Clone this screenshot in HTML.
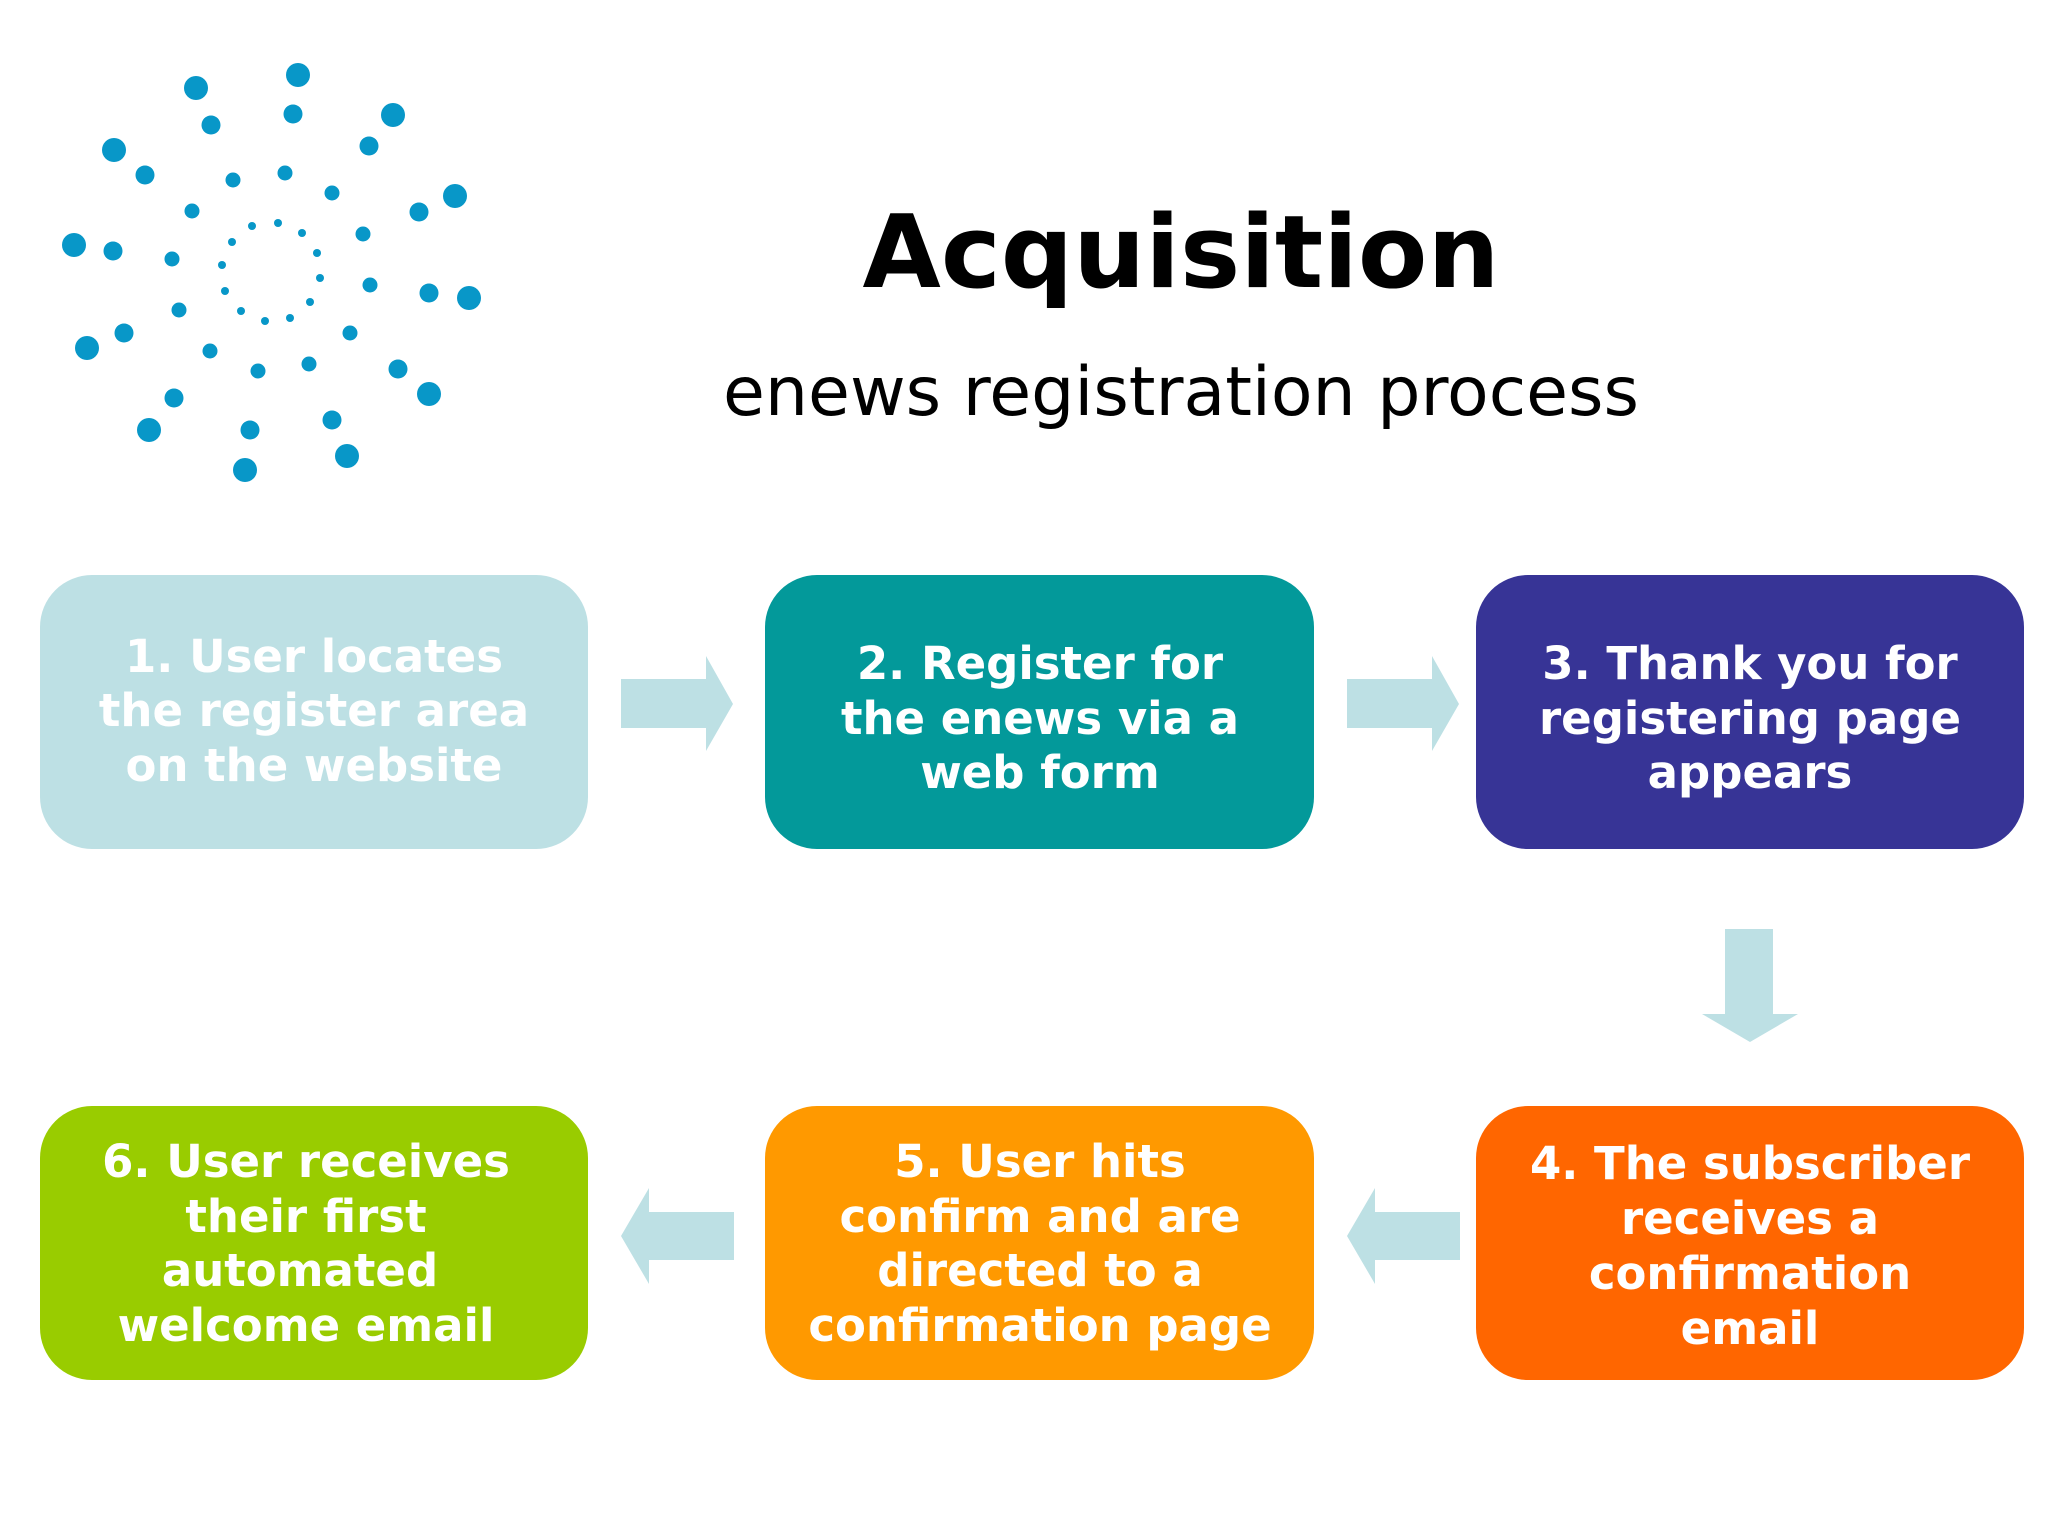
<!DOCTYPE html>
<html><head><meta charset="utf-8"><style>
html,body{margin:0;padding:0;background:#fff;}
svg{display:block;}
text{font-family:"DejaVu Sans","Liberation Sans",sans-serif;}
.b{font-weight:bold;font-size:45px;fill:#fff;text-anchor:middle;}
</style></head><body>
<svg width="2048" height="1536" viewBox="0 0 2048 1536" xmlns="http://www.w3.org/2000/svg">
<g fill="#0897c8">
<circle cx="196" cy="88" r="12"/><circle cx="298" cy="75" r="12"/><circle cx="393" cy="115" r="12"/><circle cx="114" cy="150" r="12"/><circle cx="455" cy="196" r="12"/><circle cx="74" cy="245" r="12"/><circle cx="469" cy="298" r="12"/><circle cx="87" cy="348" r="12"/><circle cx="429" cy="394" r="12"/><circle cx="149" cy="430" r="12"/><circle cx="347" cy="456" r="12"/><circle cx="245" cy="470" r="12"/>
<circle cx="211" cy="125" r="9.5"/><circle cx="293" cy="114" r="9.5"/><circle cx="369" cy="146" r="9.5"/><circle cx="145" cy="175" r="9.5"/><circle cx="419" cy="212" r="9.5"/><circle cx="113" cy="251" r="9.5"/><circle cx="429" cy="293" r="9.5"/><circle cx="124" cy="333" r="9.5"/><circle cx="398" cy="369" r="9.5"/><circle cx="174" cy="398" r="9.5"/><circle cx="332" cy="420" r="9.5"/><circle cx="250" cy="430" r="9.5"/>
<circle cx="233" cy="180" r="7.5"/><circle cx="285" cy="173" r="7.5"/><circle cx="332" cy="193" r="7.5"/><circle cx="192" cy="211" r="7.5"/><circle cx="363" cy="234" r="7.5"/><circle cx="172" cy="259" r="7.5"/><circle cx="370" cy="285" r="7.5"/><circle cx="179" cy="310" r="7.5"/><circle cx="350" cy="333" r="7.5"/><circle cx="210" cy="351" r="7.5"/><circle cx="309" cy="364" r="7.5"/><circle cx="258" cy="371" r="7.5"/>
<circle cx="252" cy="226" r="4"/><circle cx="278" cy="223" r="4"/><circle cx="302" cy="233" r="4"/><circle cx="232" cy="242" r="4"/><circle cx="317" cy="253" r="4"/><circle cx="222" cy="265" r="4"/><circle cx="320" cy="278" r="4"/><circle cx="225" cy="291" r="4"/><circle cx="310" cy="302" r="4"/><circle cx="241" cy="311" r="4"/><circle cx="265" cy="321" r="4"/><circle cx="290" cy="318" r="4"/>
</g>
<text x="1181" y="287" font-size="101" font-weight="bold" text-anchor="middle" fill="#000" textLength="637" lengthAdjust="spacingAndGlyphs">Acquisition</text>
<text x="1181" y="415" font-size="68" text-anchor="middle" fill="#000" textLength="916" lengthAdjust="spacingAndGlyphs">enews registration process</text>

<rect x="40" y="575" width="548" height="274" rx="52" fill="#bde0e4"/>
<rect x="765" y="575" width="549" height="274" rx="52" fill="#03999a"/>
<rect x="1476" y="575" width="548" height="274" rx="52" fill="#373496"/>
<rect x="40" y="1106" width="548" height="274" rx="52" fill="#99cc00"/>
<rect x="765" y="1106" width="549" height="274" rx="52" fill="#ff9900"/>
<rect x="1476" y="1106" width="548" height="274" rx="52" fill="#ff6600"/>

<g fill="#bde0e4">
<polygon points="621,679 706,679 706,656 733,704 706,751 706,728 621,728"/>
<polygon points="1347,679 1432,679 1432,656 1459,704 1432,751 1432,728 1347,728"/>
<polygon points="1725,929 1773,929 1773,1014 1798,1014 1750,1042 1702,1014 1725,1014"/>
<polygon points="734,1212 649,1212 649,1188 621,1236 649,1284 649,1260 734,1260"/>
<polygon points="1460,1212 1375,1212 1375,1188 1347,1236 1375,1284 1375,1260 1460,1260"/>
</g>

<text class="b" x="314" y="672">1. User locates</text>
<text class="b" x="314" y="726">the register area</text>
<text class="b" x="314" y="781">on the website</text>

<text class="b" x="1040" y="679">2. Register for</text>
<text class="b" x="1040" y="734">the enews via a</text>
<text class="b" x="1040" y="788">web form</text>

<text class="b" x="1750" y="679">3. Thank you for</text>
<text class="b" x="1750" y="734">registering page</text>
<text class="b" x="1750" y="788">appears</text>

<text class="b" x="306" y="1177">6. User receives</text>
<text class="b" x="306" y="1232">their first</text>
<text class="b" x="300" y="1286">automated</text>
<text class="b" x="306" y="1341">welcome email</text>

<text class="b" x="1040" y="1177">5. User hits</text>
<text class="b" x="1040" y="1232">confirm and are</text>
<text class="b" x="1040" y="1286">directed to a</text>
<text class="b" x="1040" y="1341">confirmation page</text>

<text class="b" x="1750" y="1179">4. The subscriber</text>
<text class="b" x="1750" y="1234">receives a</text>
<text class="b" x="1750" y="1289">confirmation</text>
<text class="b" x="1750" y="1344">email</text>
</svg>
</body></html>
